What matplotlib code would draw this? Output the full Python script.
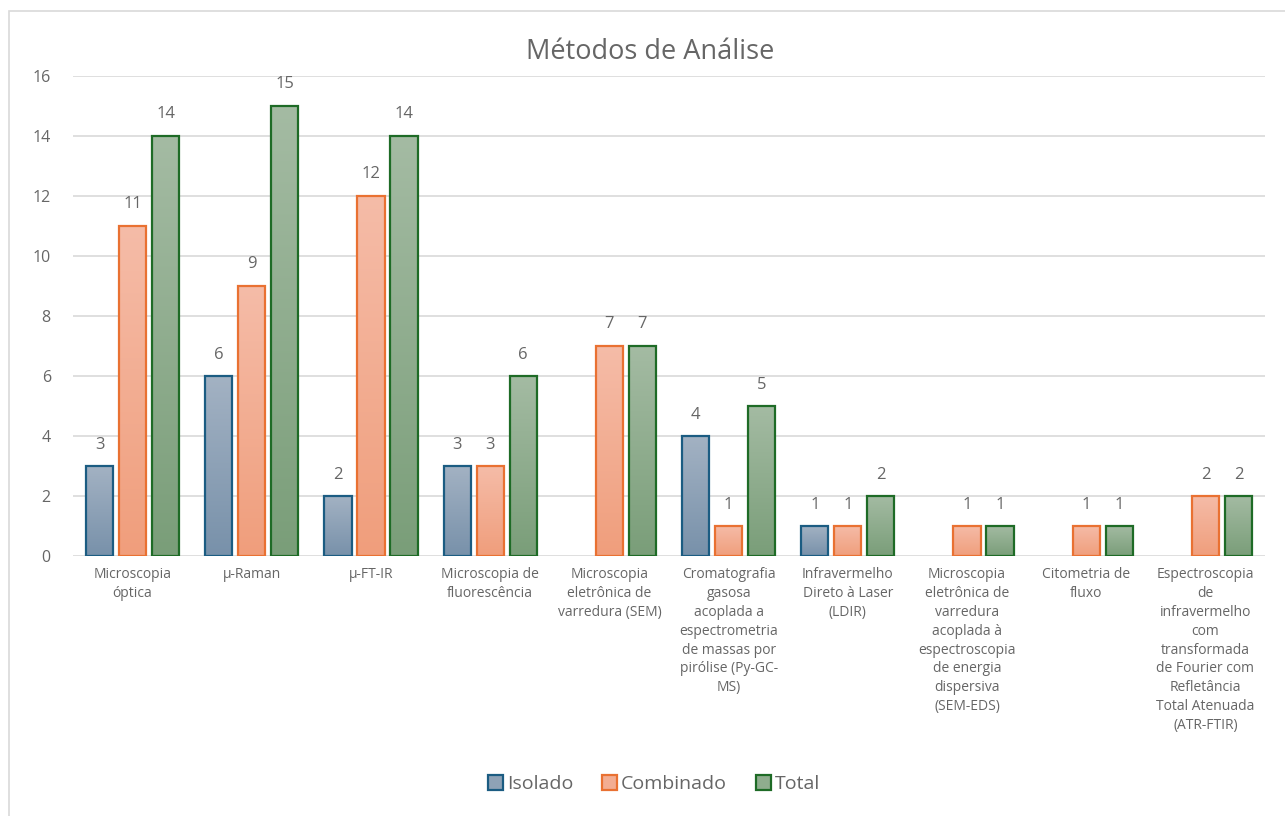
import matplotlib.pyplot as plt
import numpy as np
from matplotlib.patches import Patch, Rectangle
from matplotlib.colors import LinearSegmentedColormap, to_rgb

plt.rcParams['font.family'] = ['Open Sans', 'DejaVu Sans']

categorias = [
    "Microscopia\nóptica",
    "µ-Raman",
    "µ-FT-IR",
    "Microscopia de\nfluorescência",
    "Microscopia\neletrônica de\nvarredura (SEM)",
    "Cromatografia\ngasosa\nacoplada a\nespectrometria\nde massas por\npirólise (Py-GC-\nMS)",
    "Infravermelho\nDireto à Laser\n(LDIR)",
    "Microscopia\neletrônica de\nvarredura\nacoplada à\nespectroscopia\nde energia\ndispersiva\n(SEM-EDS)",
    "Citometria de\nfluxo",
    "Espectroscopia\nde\ninfravermelho\ncom\ntransformada\nde Fourier com\nRefletância\nTotal Atenuada\n(ATR-FTIR)",
]
isolado = [3, 6, 2, 3, None, 4, 1, None, None, None]
combinado = [11, 9, 12, 3, 7, 1, 1, 1, 1, 2]
total = [14, 15, 14, 6, 7, 5, 2, 1, 1, 2]

series = [
    ("Isolado", isolado, "#a3b2c3", "#7891aa", "#1b5c82"),
    ("Combinado", combinado, "#f5bca8", "#f09e7c", "#e97132"),
    ("Total", total, "#a4bba3", "#7a9e79", "#1e6b26"),
]

texto = "#666666"
fig = plt.figure(figsize=(12.85, 8.16), dpi=100)
ax = fig.add_axes([73 / 1285, 0.3186, 1192 / 1285, 0.5883])

x = np.arange(len(categorias))
largura = 0.227
passo = 0.277

for i, (nome, vals, topo, base, borda) in enumerate(series):
    # gradiente vertical: claro no topo, escuro na base
    cmap = LinearSegmentedColormap.from_list(nome, [base, topo])
    grad = np.linspace(1, 0, 100).reshape(-1, 1)
    for xi, v in zip(x, vals):
        if v is None:
            continue
        x0 = xi + (i - 1) * passo - largura / 2
        ax.imshow(grad, cmap=cmap, aspect='auto', interpolation='bilinear',
                  extent=(x0, x0 + largura, 0, v), zorder=2)
        ax.add_patch(Rectangle((x0, 0), largura, v, fill=False,
                               edgecolor=borda, linewidth=1.6, zorder=3))
        ax.text(xi + (i - 1) * passo, v + 0.45, str(v), ha='center', va='bottom',
                fontsize=12, color=texto)

ax.set_xlim(-0.5, len(categorias) - 0.5)
ax.set_ylim(0, 16)
ax.set_yticks(range(0, 17, 2))
ax.set_xticks(x)
ax.set_xticklabels(categorias, fontsize=10, color=texto, linespacing=1.35)
ax.tick_params(axis='y', labelsize=11.5, colors=texto, length=0, pad=16)
ax.tick_params(axis='x', length=0, pad=8)
ax.grid(axis='y', color='#d9d9d9', linewidth=1.2, zorder=0)
ax.set_axisbelow(True)
for s in ax.spines.values():
    s.set_visible(False)

fig.text(0.506, 0.936, "Métodos de Análise", ha='center', va='center',
         fontsize=19.5, color=texto)

handles = [Patch(facecolor=(np.array(to_rgb(t)) + np.array(to_rgb(b))) / 2,
                 edgecolor=e, linewidth=1.6, label=n)
           for n, _, t, b, e in series]
fig.legend(handles=handles, loc='center', bbox_to_anchor=(0.509, 0.039), ncol=3,
           frameon=False, fontsize=14, labelcolor=texto, handlelength=0.75,
           handleheight=0.75, handletextpad=0.2, columnspacing=1.5)

fig.patches.append(Rectangle((9 / 1285, -0.01), 1.02, 1 - 11 / 816 + 0.01,
                             transform=fig.transFigure, fill=False,
                             edgecolor='#d9d9d9', linewidth=1.2))

fig.savefig("out.png", dpi=100)
